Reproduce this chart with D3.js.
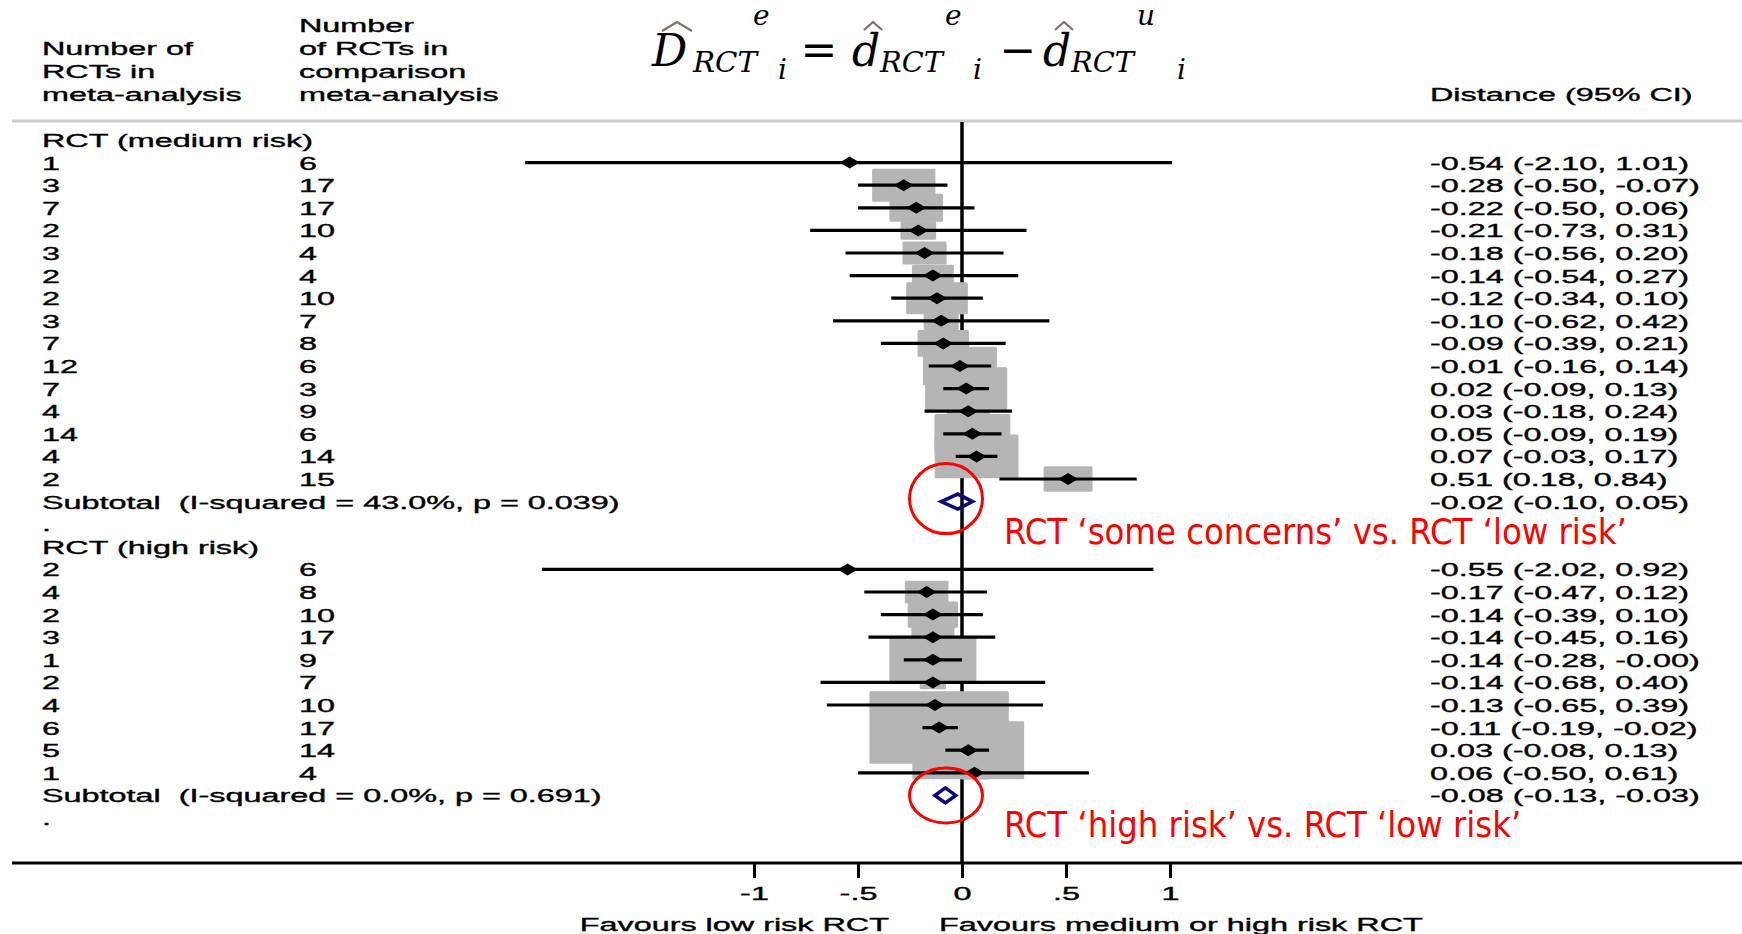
<!DOCTYPE html>
<html lang="en">
  <head>
    <title>Distance forest plot</title>
    <meta charset="utf-8">
    <style>
      body { margin: 0; background: #fff; }
      svg { display: block; }
      .st { font-family: "Liberation Sans", Arial, sans-serif; font-size: 17.5px; fill: #000; stroke: #000; stroke-width: 0.35px; white-space: pre; }
      .fm { font-family: "DejaVu Serif", serif; font-style: italic; fill: #000; }
      .note { font-family: "DejaVu Sans Condensed", "DejaVu Sans", sans-serif; font-stretch: condensed; font-size: 36px; fill: #ff0000; }
    </style>
  </head>
  <body>
    <svg width="1742" height="934"></svg>
    <script src="https://d3js.org/d3.v7.min.js"></script>
    <script>
      // RCT (medium risk)
      var medN1 = [1, 3, 7, 2, 3, 2, 2, 3, 7, 12, 7, 4, 14, 4, 2];
      var medN2 = [6, 17, 17, 10, 4, 4, 10, 7, 8, 6, 3, 9, 6, 14, 15];
      var medEst = [-0.54, -0.28, -0.22, -0.21, -0.18, -0.14, -0.12, -0.10, -0.09, -0.01, 0.02, 0.03, 0.05, 0.07, 0.51];
      var medLo = [-2.10, -0.50, -0.50, -0.73, -0.56, -0.54, -0.34, -0.62, -0.39, -0.16, -0.09, -0.18, -0.09, -0.03, 0.18];
      var medHi = [1.01, -0.07, 0.06, 0.31, 0.20, 0.27, 0.10, 0.42, 0.21, 0.14, 0.13, 0.24, 0.19, 0.17, 0.84];
      var medWeight = [0.15, 8.2, 5.9, 2.6, 4.0, 3.6, 7.8, 2.5, 5.4, 11.2, 13.8, 3.8, 11.8, 14.4, 4.9];

      // RCT (high risk)
      var highN1 = [2, 4, 2, 3, 1, 2, 4, 6, 5, 1];
      var highN2 = [6, 8, 10, 17, 9, 7, 10, 17, 14, 4];
      var highEst = [-0.55, -0.17, -0.14, -0.14, -0.14, -0.14, -0.13, -0.11, 0.03, 0.06];
      var highLo = [-2.02, -0.47, -0.39, -0.45, -0.28, -0.68, -0.65, -0.19, -0.08, -0.50];
      var highHi = [0.92, 0.12, 0.10, 0.16, -0.00, 0.40, 0.39, -0.02, 0.13, 0.61];
      var highWeight = [0.15, 3.9, 5.2, 3.8, 15.5, 1.4, 1.4, 39.8, 25.6, 1.4];

      // subtotals: [estimate, lower, upper]
      var subMed = [-0.02, -0.10, 0.05];
      var subHigh = [-0.08, -0.13, -0.03];
      var subI2 = [43.0, 0.0];
      var subP = [0.039, 0.691];

      var groupNames = ["RCT (medium risk)", "RCT (high risk)"];
      var notes = ["RCT \u2018some concerns\u2019 vs. RCT \u2018low risk\u2019", "RCT \u2018high risk\u2019 vs. RCT \u2018low risk\u2019"];
      var xTicks = [-1, -0.5, 0, 0.5, 1];
      var xTickLabels = ["-1", "-.5", "0", ".5", "1"];
      var favours = ["Favours low risk RCT", "Favours medium or high risk RCT"];

      var SX = 1.85; // the stata output is stretched sideways
      var svg = d3.select("svg");
      var W = 1742;

      var x = d3.scaleLinear().domain([-1, 1]).range([754, 1170]);
      var y = d3.scaleLinear().domain([0, 30]).range([140, 818]);
      var boxW = d3.scaleSqrt().domain([0, 100]).range([0, 221]);

      const fmt = v => (v < 0 || Object.is(v, -0) ? "-" : "") + Math.abs(v).toFixed(2);

      function stext(g, px, py, str, anchor) {
        return g.append("text")
          .attr("class", "st")
          .attr("transform", `translate(${px},${py}) scale(${SX},1)`)
          .attr("text-anchor", anchor || "start")
          .text(str);
      }

      // build the row list
      var rows = [];
      function addGroup(name, n1, n2, est, lo, hi, wt, sub, k) {
        rows.push({type: "head", label: name});
        est.forEach((e, i) => rows.push({type: "study", n1: n1[i], n2: n2[i], est: e, lo: lo[i], hi: hi[i], w: wt[i]}));
        rows.push({type: "sub", est: sub[0], lo: sub[1], hi: sub[2], i2: subI2[k], p: subP[k]});
        rows.push({type: "dot"});
      }
      addGroup(groupNames[0], medN1, medN2, medEst, medLo, medHi, medWeight, subMed, 0);
      addGroup(groupNames[1], highN1, highN2, highEst, highLo, highHi, highWeight, subHigh, 1);
      rows.forEach((r, i) => r.y = y(i));
      var studies = rows.filter(r => r.type === "study");
      var subs = rows.filter(r => r.type === "sub");

      // header
      var head = svg.append("g");
      [["Number of", 55], ["RCTs in", 78], ["meta-analysis", 101]].forEach(d => stext(head, 42, d[1], d[0]));
      [["Number", 32], ["of RCTs in", 55], ["comparison", 78], ["meta-analysis", 101]].forEach(d => stext(head, 299, d[1], d[0]));
      stext(head, 1430, 101, "Distance (95% CI)");

      svg.append("line")
        .attr("x1", 12).attr("x2", W).attr("y1", 121).attr("y2", 121)
        .attr("stroke", "#cdcdcd").attr("stroke-width", 3);

      // formula
      var fm = svg.append("g");
      var hat = "#86706a";
      function piece(px, py, str, size, len) {
        var t = fm.append("text").attr("class", "fm").attr("x", px).attr("y", py)
          .style("font-size", size + "px").text(str);
        if (len) t.attr("textLength", len).attr("lengthAdjust", "spacingAndGlyphs");
        return t;
      }
      piece(652, 66, "D", 44);
      piece(693, 72, "RCT", 27, 64);
      piece(753, 25, "e", 28);
      piece(778, 79, "i", 28);
      fm.append("text").attr("x", 819).attr("y", 65).attr("text-anchor", "middle")
        .style("font-family", "DejaVu Serif").style("font-size", "44px").text("=");
      piece(852, 66, "d", 44);
      piece(880, 72, "RCT", 27, 63);
      piece(945, 25, "e", 28);
      piece(973, 79, "i", 28);
      fm.append("text").attr("x", 1018).attr("y", 65).attr("text-anchor", "middle")
        .style("font-family", "DejaVu Serif").style("font-size", "44px").text("\u2212");
      piece(1043, 66, "d", 44);
      piece(1071, 72, "RCT", 27, 63);
      piece(1137, 25, "u", 28);
      piece(1177, 79, "i", 28);
      [[662, 692, 22, 31], [864, 882, 22, 30], [1055, 1073, 22, 30]].forEach(h => {
        fm.append("path")
          .attr("d", `M${h[0]},${h[3]}L${(h[0] + h[1]) / 2},${h[2]}L${h[1]},${h[3]}`)
          .attr("fill", "none").attr("stroke", hat).attr("stroke-width", 2.2);
      });

      // left and right columns
      var cols = svg.append("g");
      rows.forEach(r => {
        if (r.type === "head") stext(cols, 42, r.y + 7, r.label);
        if (r.type === "dot") stext(cols, 42, r.y + 7, ".");
        if (r.type === "study") {
          stext(cols, 42, r.y + 7, String(r.n1));
          stext(cols, 299, r.y + 7, String(r.n2));
        }
        if (r.type === "sub") stext(cols, 42, r.y + 7, `Subtotal  (I-squared = ${r.i2.toFixed(1)}%, p = ${r.p.toFixed(3)})`);
        if (r.type === "study" || r.type === "sub")
          stext(cols, 1430, r.y + 7, `${fmt(r.est)} (${fmt(r.lo)}, ${fmt(r.hi)})`);
      });

      // zero line
      svg.append("line")
        .attr("x1", x(0)).attr("x2", x(0)).attr("y1", 122).attr("y2", 863)
        .attr("stroke", "#000").attr("stroke-width", 3.5);

      // weight boxes
      svg.append("g").selectAll("rect")
        .data(studies)
        .enter()
        .append("rect")
        .attr("x", d => x(d.est) - boxW(d.w) / 2)
        .attr("y", d => d.y - boxW(d.w) * 0.26)
        .attr("width", d => boxW(d.w))
        .attr("height", d => boxW(d.w) * 0.52)
        .attr("rx", 1.5)
        .attr("fill", "#b5b5b5");

      // confidence intervals
      svg.append("g").selectAll("line")
        .data(studies)
        .enter()
        .append("line")
        .attr("x1", d => x(d.lo)).attr("x2", d => x(d.hi))
        .attr("y1", d => d.y).attr("y2", d => d.y)
        .attr("stroke", "#000").attr("stroke-width", 3.2);

      // point estimates
      svg.append("g").selectAll("path")
        .data(studies)
        .enter()
        .append("path")
        .attr("d", d => `M${x(d.est) - 10},${d.y}L${x(d.est)},${d.y - 6}L${x(d.est) + 10},${d.y}L${x(d.est)},${d.y + 6}Z`)
        .attr("fill", "#000");

      // subtotal diamonds
      svg.append("g").selectAll("path")
        .data(subs)
        .enter()
        .append("path")
        .attr("d", d => `M${x(d.lo)},${d.y}L${x(d.est)},${d.y - 7.5}L${x(d.hi)},${d.y}L${x(d.est)},${d.y + 7.5}Z`)
        .attr("fill", "none")
        .attr("stroke", "#0b0b7a")
        .attr("stroke-width", 3.6)
        .attr("stroke-linejoin", "miter");

      // x axis
      svg.append("line")
        .attr("x1", 12).attr("x2", W).attr("y1", 863).attr("y2", 863)
        .attr("stroke", "#000").attr("stroke-width", 3);
      var ax = svg.append("g")
        .attr("transform", "translate(0,863)")
        .call(d3.axisBottom(x).tickValues(xTicks).tickSize(15).tickPadding(10)
          .tickFormat((d, i) => xTickLabels[i]));
      ax.select(".domain").remove();
      ax.selectAll(".tick line").attr("stroke", "#000").attr("stroke-width", 3);
      ax.selectAll(".tick text")
        .attr("class", "st")
        .attr("transform", `scale(${SX},1)`)
        .attr("font-size", null).attr("font-family", null);
      stext(svg, 889, 931, favours[0], "end");
      stext(svg, 939, 931, favours[1]);

      // annotations
      var ann = svg.append("g");
      ann.selectAll("ellipse")
        .data(subs)
        .enter()
        .append("ellipse")
        .attr("cx", x(0) - 16)
        .attr("cy", (d, i) => d.y - (i ? 0 : 3))
        .attr("rx", 36.5)
        .attr("ry", (d, i) => i ? 27.5 : 35)
        .attr("fill", "none")
        .attr("stroke", "#ff0000")
        .attr("stroke-width", 3);
      ann.selectAll("text")
        .data(subs)
        .enter()
        .append("text")
        .attr("class", "note")
        .attr("x", 1004)
        .attr("y", d => d.y + 42)
        .text((d, i) => notes[i]);
    </script>
  </body>
</html>
